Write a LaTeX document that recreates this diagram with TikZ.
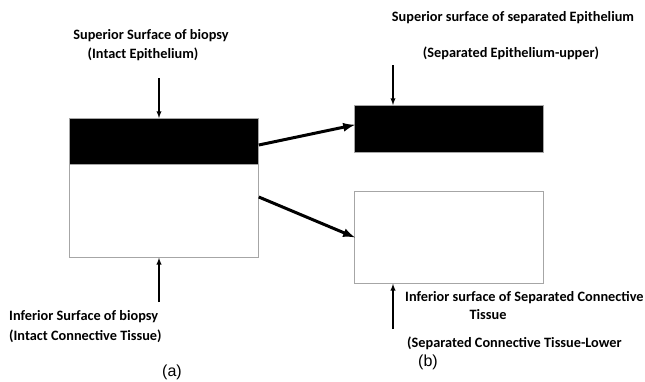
\documentclass[tikz,border=0pt]{standalone}
\usepackage{fontspec}
\setmainfont{Carlito}
\newfontfamily\capfont{Liberation Sans}
\usetikzlibrary{positioning}
\begin{document}
\begin{tikzpicture}[x=1pt, y=-1pt, >=latex,
    layer/.style={draw=gray!70, line width=0.8pt, inner sep=0pt, minimum width=189pt},
    label/.style={font=\bfseries\fontsize{14.3}{16}\selectfont, inner sep=0pt},
    caption/.style={font=\capfont\fontsize{16}{18}\selectfont, inner sep=0pt},
    thin arrow/.style={->, line width=1.3pt},
    thick arrow/.style={->, line width=3pt, shorten >=-1pt}]
    \useasboundingbox (0,0) rectangle (645,381);
    % (a) biopsy
    \node[layer, fill=black, minimum height=46pt, anchor=north west] (epi) at (69,118) {};
    \node[layer, fill=white, minimum height=93pt, anchor=north west] (ct) at (69,164) {};
    \node[label] (supA) at (151,36) {Superior Surface of biopsy};
    \node[label] (supAsub) at (143,54) {(Intact Epithelium)};
    \node[label, anchor=west] (infA) at (9,317) {Inferior Surface of biopsy};
    \node[label, anchor=west] (infAsub) at (9,336) {(Intact Connective Tissue)};
    \node[caption] (capA) at (172,372) {(a)};
    \coordinate (supAtail) at (159,78);
    \coordinate (infAtail) at (159,302);
    \draw[thin arrow] (supAtail) -- (supAtail |- epi.north);
    \draw[thin arrow] (infAtail) -- (infAtail |- ct.south);
    % (b) separated layers
    \node[layer, fill=black, minimum height=47pt, anchor=north west] (sepEpi) at (354,105) {};
    \node[layer, fill=white, minimum height=92pt, anchor=north west] (sepCt) at (354,191) {};
    \node[label] (supB) at (513,18) {Superior surface of separated Epithelium};
    \node[label] (supBsub) at (511,53) {(Separated Epithelium-upper)};
    \node[label, anchor=west] (infB) at (405,298) {Inferior surface of Separated Connective};
    \node[label] (infBtissue) at (488,315) {Tissue};
    \node[label, anchor=west] (infBsub) at (407,343) {(Separated Connective Tissue-Lower};
    \node[caption] (capB) at (428,362) {(b)};
    \coordinate (supBtail) at (393,65);
    \coordinate (infBtail) at (393,329);
    \draw[thin arrow] (supBtail) -- (supBtail |- sepEpi.north);
    \draw[thin arrow] (infBtail) -- (infBtail |- sepCt.south);
    % separation
    \draw[thick arrow] (epi.east |- 0,145) -- (sepEpi.west |- 0,125);
    \draw[thick arrow] (ct.east |- 0,197) -- (sepCt.west |- 0,237);
\end{tikzpicture}
\end{document}
